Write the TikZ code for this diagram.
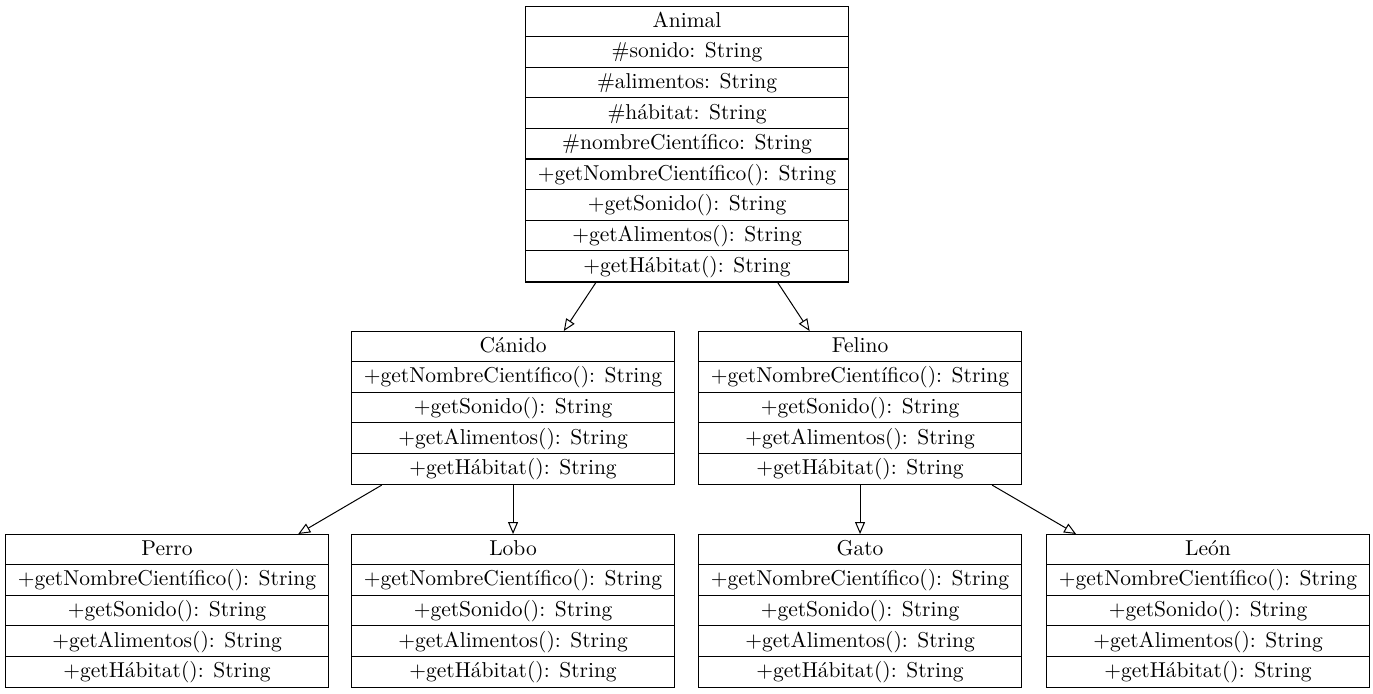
\documentclass[tikz,border=0pt]{standalone}
\usetikzlibrary{arrows.meta,calc}
\newcommand\umlfont{\fontsize{10.75pt}{13pt}\selectfont}
\newcommand\umlclass[5]{% #1 name, #2 left x, #3 top y, #4 rows, #5 texts
  \node[classbox, minimum height=#4*15.3pt, anchor=north west] (#1) at (#2,-#3) {};
  \foreach \t [count=\i] in {#5} {
    \node[rowtext] (#1-\i) at ($(#1.north)+(0,{-(\i-0.5)*30.6-6})$) {\t};
    \ifnum\i>1
      \draw[sepline] ($(#1.north west)+(0,{-(\i-1)*30.6})$) -- ($(#1.north east)+(0,{-(\i-1)*30.6})$);
    \fi
  }
}
\begin{document}
\begin{tikzpicture}[x=0.5pt,y=0.5pt,
  classbox/.style={draw, line width=0.55pt, minimum width=161.5pt, inner sep=0pt},
  rowtext/.style={anchor=base, inner sep=0pt, font=\umlfont},
  sepline/.style={line width=0.55pt},
  inherit/.style={line width=0.5pt, -{Triangle[open, length=6pt, width=5pt]}}]
\fill[white] (0,0) rectangle (1373,-693);
\useasboundingbox (0,0) rectangle (1373,-693);

\umlclass{animal}{525}{6}{9}{Animal,\#sonido: String,\#alimentos: String,\#hábitat: String,\#nombreCientífico: String,+getNombreCientífico(): String,+getSonido(): String,+getAlimentos(): String,+getHábitat(): String}

\umlclass{canido}{351}{331}{5}{Cánido,+getNombreCientífico(): String,+getSonido(): String,+getAlimentos(): String,+getHábitat(): String}
\umlclass{felino}{698}{331}{5}{Felino,+getNombreCientífico(): String,+getSonido(): String,+getAlimentos(): String,+getHábitat(): String}

\umlclass{perro}{5}{534}{5}{Perro,+getNombreCientífico(): String,+getSonido(): String,+getAlimentos(): String,+getHábitat(): String}
\umlclass{lobo}{351}{534}{5}{Lobo,+getNombreCientífico(): String,+getSonido(): String,+getAlimentos(): String,+getHábitat(): String}
\umlclass{gato}{698}{534}{5}{Gato,+getNombreCientífico(): String,+getSonido(): String,+getAlimentos(): String,+getHábitat(): String}
\umlclass{leon}{1046}{534}{5}{León,+getNombreCientífico(): String,+getSonido(): String,+getAlimentos(): String,+getHábitat(): String}

\draw[inherit] (animal) -- (canido);
\draw[inherit] (animal) -- (felino);
\draw[inherit] (canido) -- (perro);
\draw[inherit] (canido) -- (lobo);
\draw[inherit] (felino) -- (gato);
\draw[inherit] (felino) -- (leon);
\end{tikzpicture}
\end{document}
